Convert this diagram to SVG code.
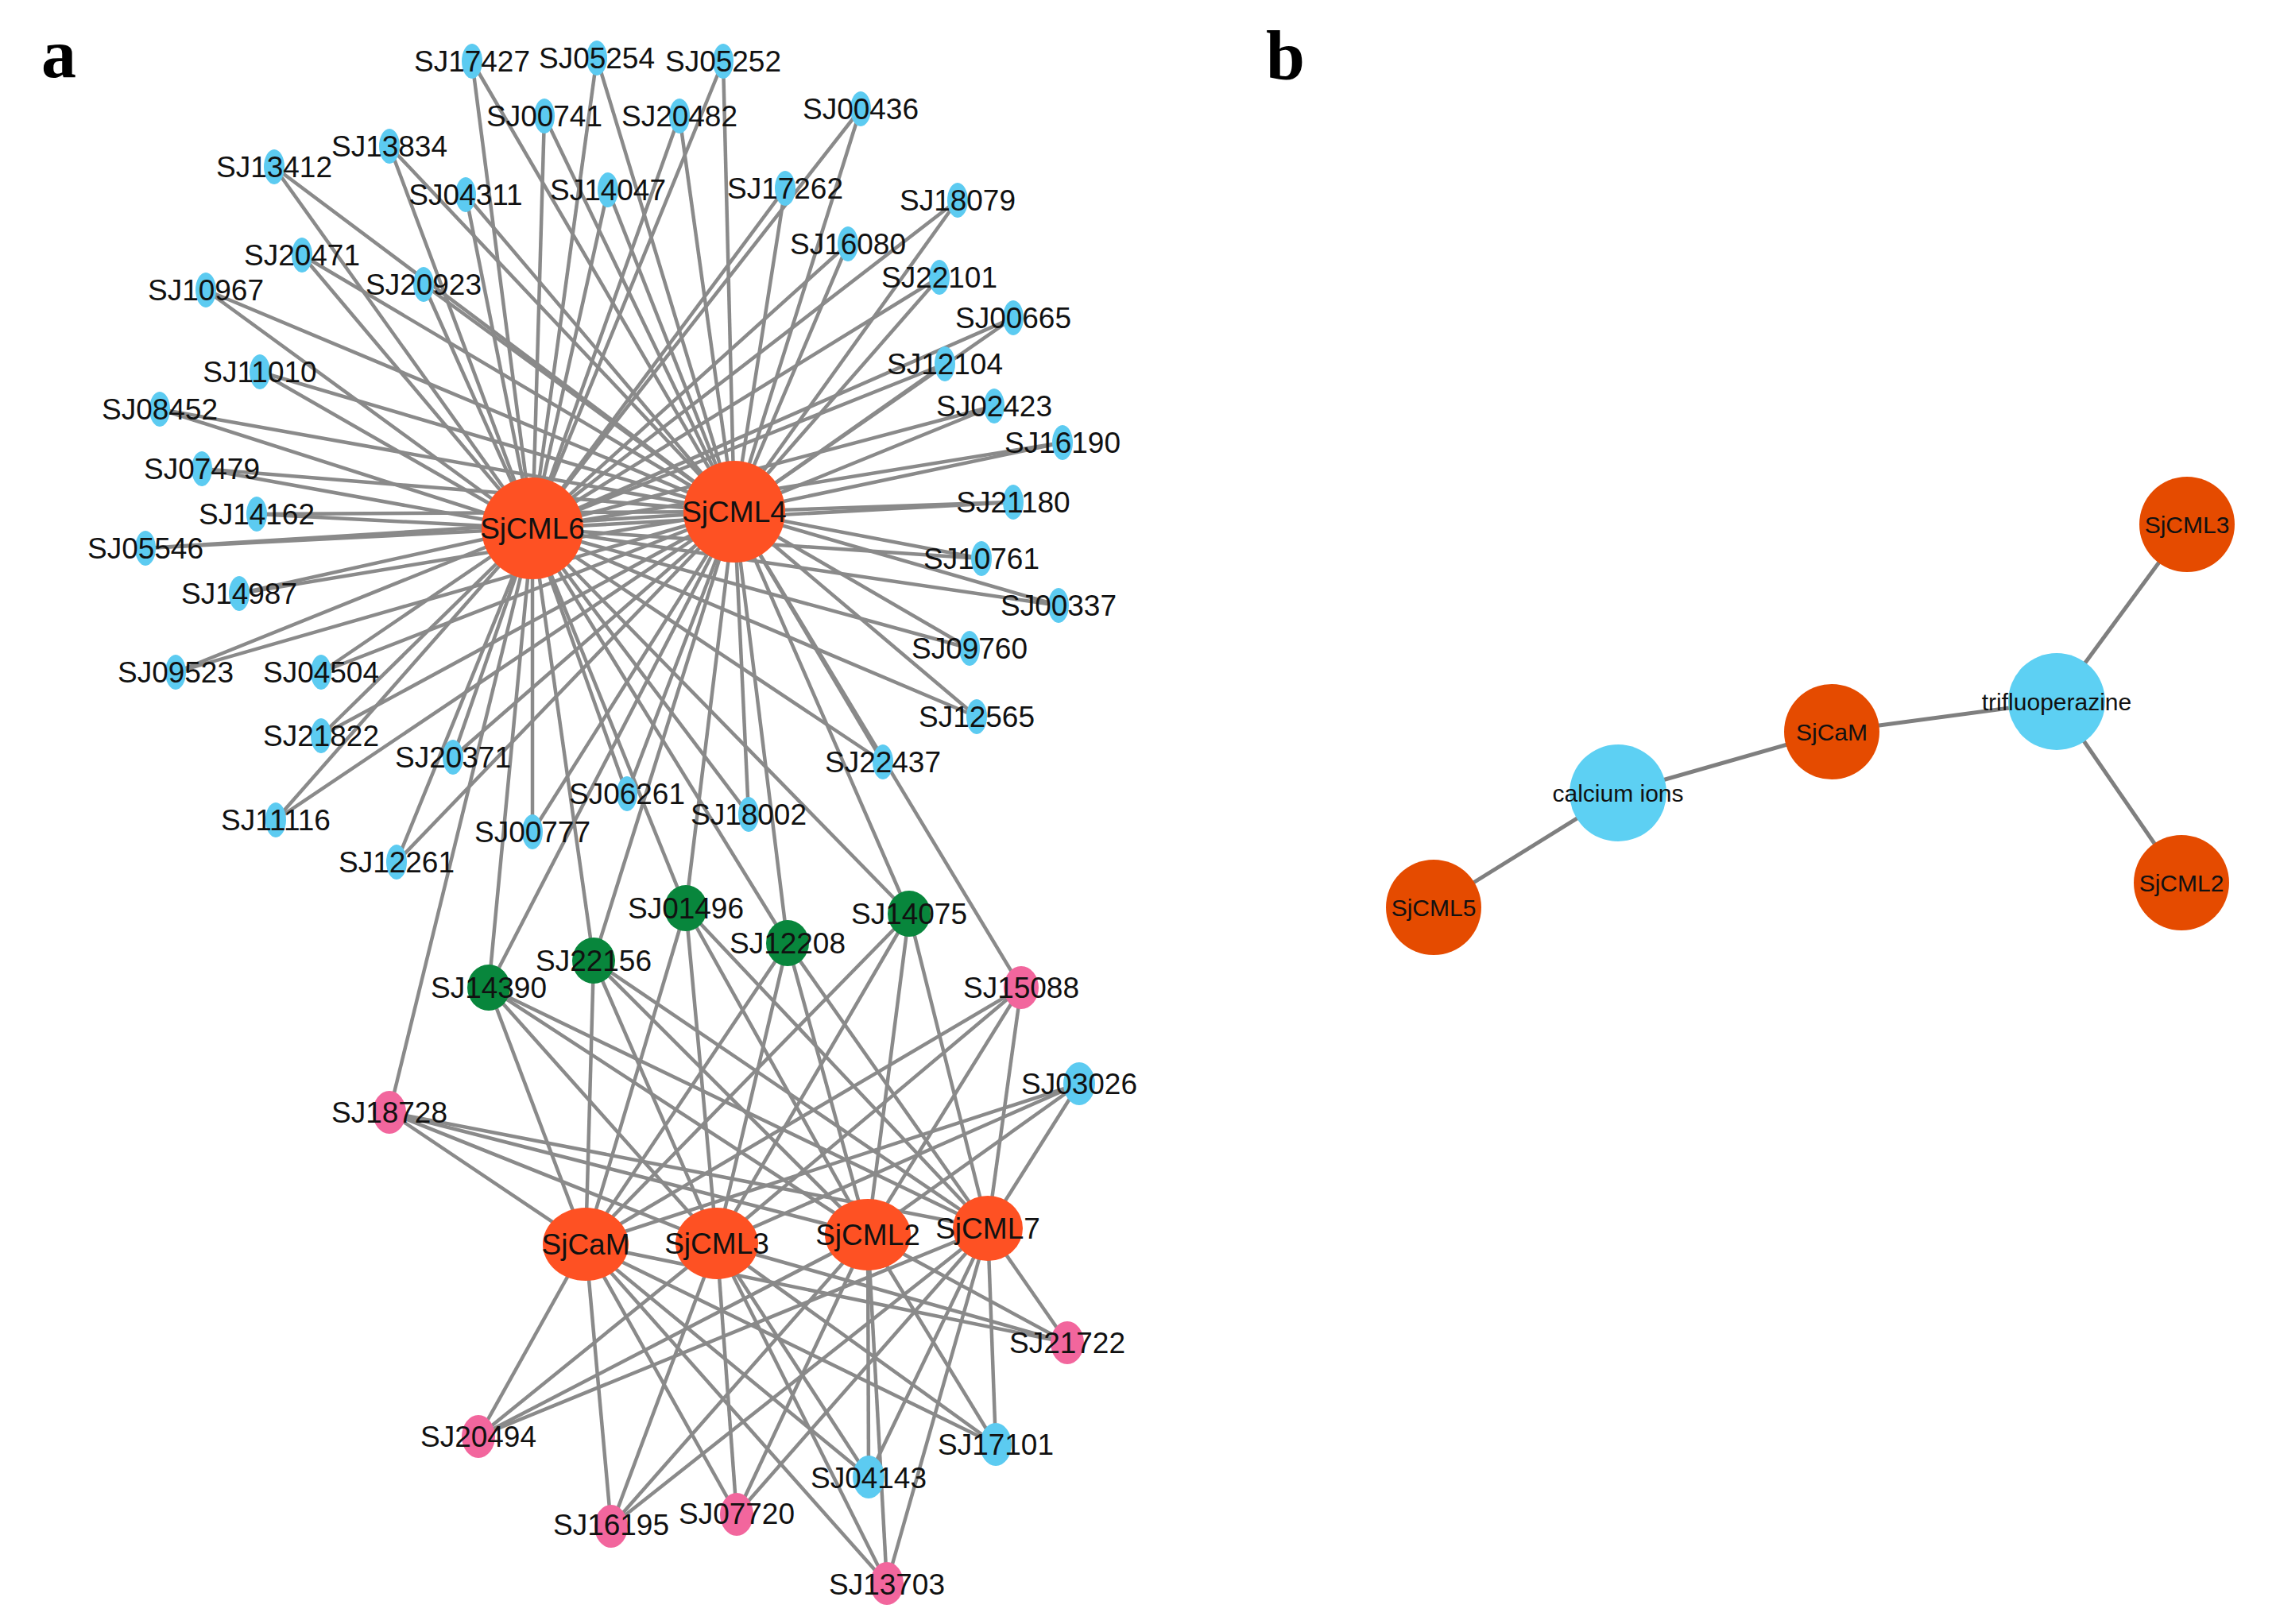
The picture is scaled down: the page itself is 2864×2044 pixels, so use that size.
<svg xmlns="http://www.w3.org/2000/svg" width="2864" height="2044" viewBox="0 0 2864 2044">
<style>
.e{stroke:#8a8a8a;stroke-width:4.5;fill:none}
.eb{stroke:#7f7f7f;stroke-width:5;fill:none}
.blue{fill:#5ccbf1}
.hub{fill:#fe5123}
.green{fill:#08863c}
.pink{fill:#f2669d}
.bhub{fill:#e54b00}
.bcy{fill:#5dd0f3}
text{font-family:"Liberation Sans",Arial,sans-serif;text-anchor:middle;fill:#111}
.t{font-size:37px}
.tb{font-size:30px}
.panel{font-family:"Liberation Serif","Times New Roman",serif;font-weight:bold;font-size:88px;text-anchor:start;fill:#000}
</style>
<rect width="2864" height="2044" fill="#fff"/>
<text class="panel" x="52" y="97">a</text>
<text class="panel" x="1593" y="100">b</text>
<g id="connectors">
<g class="e">
<line x1="594" y1="77" x2="670" y2="665"/><line x1="594" y1="77" x2="924" y2="644"/>
<line x1="751" y1="73" x2="670" y2="665"/><line x1="751" y1="73" x2="924" y2="644"/>
<line x1="910" y1="77" x2="670" y2="665"/><line x1="910" y1="77" x2="924" y2="644"/>
<line x1="685" y1="146" x2="670" y2="665"/><line x1="685" y1="146" x2="924" y2="644"/>
<line x1="855" y1="146" x2="670" y2="665"/><line x1="855" y1="146" x2="924" y2="644"/>
<line x1="1083" y1="137" x2="670" y2="665"/><line x1="1083" y1="137" x2="924" y2="644"/>
<line x1="490" y1="184" x2="670" y2="665"/><line x1="490" y1="184" x2="924" y2="644"/>
<line x1="345" y1="210" x2="670" y2="665"/><line x1="345" y1="210" x2="924" y2="644"/>
<line x1="586" y1="245" x2="670" y2="665"/><line x1="586" y1="245" x2="924" y2="644"/>
<line x1="765" y1="239" x2="670" y2="665"/><line x1="765" y1="239" x2="924" y2="644"/>
<line x1="988" y1="237" x2="670" y2="665"/><line x1="988" y1="237" x2="924" y2="644"/>
<line x1="1205" y1="252" x2="670" y2="665"/><line x1="1205" y1="252" x2="924" y2="644"/>
<line x1="1067" y1="307" x2="670" y2="665"/><line x1="1067" y1="307" x2="924" y2="644"/>
<line x1="380" y1="321" x2="670" y2="665"/><line x1="380" y1="321" x2="924" y2="644"/>
<line x1="533" y1="358" x2="670" y2="665"/><line x1="533" y1="358" x2="924" y2="644"/>
<line x1="1182" y1="349" x2="670" y2="665"/><line x1="1182" y1="349" x2="924" y2="644"/>
<line x1="259" y1="365" x2="670" y2="665"/><line x1="259" y1="365" x2="924" y2="644"/>
<line x1="1275" y1="400" x2="670" y2="665"/><line x1="1275" y1="400" x2="924" y2="644"/>
<line x1="327" y1="468" x2="670" y2="665"/><line x1="327" y1="468" x2="924" y2="644"/>
<line x1="1189" y1="458" x2="670" y2="665"/><line x1="1189" y1="458" x2="924" y2="644"/>
<line x1="201" y1="515" x2="670" y2="665"/><line x1="201" y1="515" x2="924" y2="644"/>
<line x1="1251" y1="511" x2="670" y2="665"/><line x1="1251" y1="511" x2="924" y2="644"/>
<line x1="1337" y1="557" x2="670" y2="665"/><line x1="1337" y1="557" x2="924" y2="644"/>
<line x1="254" y1="590" x2="670" y2="665"/><line x1="254" y1="590" x2="924" y2="644"/>
<line x1="323" y1="647" x2="670" y2="665"/><line x1="323" y1="647" x2="924" y2="644"/>
<line x1="1275" y1="632" x2="670" y2="665"/><line x1="1275" y1="632" x2="924" y2="644"/>
<line x1="183" y1="690" x2="670" y2="665"/><line x1="183" y1="690" x2="924" y2="644"/>
<line x1="1235" y1="703" x2="670" y2="665"/><line x1="1235" y1="703" x2="924" y2="644"/>
<line x1="301" y1="747" x2="670" y2="665"/><line x1="301" y1="747" x2="924" y2="644"/>
<line x1="1332" y1="762" x2="670" y2="665"/><line x1="1332" y1="762" x2="924" y2="644"/>
<line x1="1220" y1="816" x2="670" y2="665"/><line x1="1220" y1="816" x2="924" y2="644"/>
<line x1="221" y1="846" x2="670" y2="665"/><line x1="221" y1="846" x2="924" y2="644"/>
<line x1="404" y1="846" x2="670" y2="665"/><line x1="404" y1="846" x2="924" y2="644"/>
<line x1="1229" y1="902" x2="670" y2="665"/><line x1="1229" y1="902" x2="924" y2="644"/>
<line x1="404" y1="926" x2="670" y2="665"/><line x1="404" y1="926" x2="924" y2="644"/>
<line x1="1111" y1="959" x2="670" y2="665"/><line x1="1111" y1="959" x2="924" y2="644"/>
<line x1="570" y1="953" x2="670" y2="665"/><line x1="570" y1="953" x2="924" y2="644"/>
<line x1="789" y1="999" x2="670" y2="665"/><line x1="789" y1="999" x2="924" y2="644"/>
<line x1="347" y1="1032" x2="670" y2="665"/><line x1="347" y1="1032" x2="924" y2="644"/>
<line x1="942" y1="1025" x2="670" y2="665"/><line x1="942" y1="1025" x2="924" y2="644"/>
<line x1="670" y1="1047" x2="670" y2="665"/><line x1="670" y1="1047" x2="924" y2="644"/>
<line x1="499" y1="1085" x2="670" y2="665"/><line x1="499" y1="1085" x2="924" y2="644"/>
<line x1="615" y1="1243" x2="670" y2="665"/><line x1="615" y1="1243" x2="924" y2="644"/>
<line x1="615" y1="1243" x2="737" y2="1566"/><line x1="615" y1="1243" x2="902" y2="1565"/><line x1="615" y1="1243" x2="1092" y2="1554"/><line x1="615" y1="1243" x2="1243" y2="1546"/>
<line x1="747" y1="1209" x2="670" y2="665"/><line x1="747" y1="1209" x2="924" y2="644"/>
<line x1="747" y1="1209" x2="737" y2="1566"/><line x1="747" y1="1209" x2="902" y2="1565"/><line x1="747" y1="1209" x2="1092" y2="1554"/><line x1="747" y1="1209" x2="1243" y2="1546"/>
<line x1="863" y1="1143" x2="670" y2="665"/><line x1="863" y1="1143" x2="924" y2="644"/>
<line x1="863" y1="1143" x2="737" y2="1566"/><line x1="863" y1="1143" x2="902" y2="1565"/><line x1="863" y1="1143" x2="1092" y2="1554"/><line x1="863" y1="1143" x2="1243" y2="1546"/>
<line x1="991" y1="1187" x2="670" y2="665"/><line x1="991" y1="1187" x2="924" y2="644"/>
<line x1="991" y1="1187" x2="737" y2="1566"/><line x1="991" y1="1187" x2="902" y2="1565"/><line x1="991" y1="1187" x2="1092" y2="1554"/><line x1="991" y1="1187" x2="1243" y2="1546"/>
<line x1="1144" y1="1150" x2="670" y2="665"/><line x1="1144" y1="1150" x2="924" y2="644"/>
<line x1="1144" y1="1150" x2="737" y2="1566"/><line x1="1144" y1="1150" x2="902" y2="1565"/><line x1="1144" y1="1150" x2="1092" y2="1554"/><line x1="1144" y1="1150" x2="1243" y2="1546"/>
<line x1="490" y1="1400" x2="670" y2="665"/>
<line x1="490" y1="1400" x2="737" y2="1566"/><line x1="490" y1="1400" x2="902" y2="1565"/><line x1="490" y1="1400" x2="1092" y2="1554"/><line x1="490" y1="1400" x2="1243" y2="1546"/>
<line x1="1285" y1="1243" x2="924" y2="644"/>
<line x1="1285" y1="1243" x2="737" y2="1566"/><line x1="1285" y1="1243" x2="902" y2="1565"/><line x1="1285" y1="1243" x2="1092" y2="1554"/><line x1="1285" y1="1243" x2="1243" y2="1546"/>
<line x1="1358" y1="1364" x2="737" y2="1566"/><line x1="1358" y1="1364" x2="902" y2="1565"/><line x1="1358" y1="1364" x2="1092" y2="1554"/><line x1="1358" y1="1364" x2="1243" y2="1546"/>
<line x1="1343" y1="1690" x2="737" y2="1566"/><line x1="1343" y1="1690" x2="902" y2="1565"/><line x1="1343" y1="1690" x2="1092" y2="1554"/><line x1="1343" y1="1690" x2="1243" y2="1546"/>
<line x1="602" y1="1808" x2="737" y2="1566"/><line x1="602" y1="1808" x2="902" y2="1565"/><line x1="602" y1="1808" x2="1092" y2="1554"/><line x1="602" y1="1808" x2="1243" y2="1546"/>
<line x1="769" y1="1921" x2="737" y2="1566"/><line x1="769" y1="1921" x2="902" y2="1565"/><line x1="769" y1="1921" x2="1092" y2="1554"/><line x1="769" y1="1921" x2="1243" y2="1546"/>
<line x1="927" y1="1906" x2="737" y2="1566"/><line x1="927" y1="1906" x2="902" y2="1565"/><line x1="927" y1="1906" x2="1092" y2="1554"/><line x1="927" y1="1906" x2="1243" y2="1546"/>
<line x1="1093" y1="1859" x2="737" y2="1566"/><line x1="1093" y1="1859" x2="902" y2="1565"/><line x1="1093" y1="1859" x2="1092" y2="1554"/><line x1="1093" y1="1859" x2="1243" y2="1546"/>
<line x1="1116" y1="1993" x2="737" y2="1566"/><line x1="1116" y1="1993" x2="902" y2="1565"/><line x1="1116" y1="1993" x2="1092" y2="1554"/><line x1="1116" y1="1993" x2="1243" y2="1546"/>
<line x1="1253" y1="1818" x2="737" y2="1566"/><line x1="1253" y1="1818" x2="902" y2="1565"/><line x1="1253" y1="1818" x2="1092" y2="1554"/><line x1="1253" y1="1818" x2="1243" y2="1546"/>
</g>
<g class="eb">
<line x1="1804" y1="1142" x2="2036" y2="998"/>
<line x1="2036" y1="998" x2="2305" y2="921"/>
<line x1="2305" y1="921" x2="2588" y2="883"/>
<line x1="2588" y1="883" x2="2752" y2="660"/>
<line x1="2588" y1="883" x2="2745" y2="1111"/>
</g>
</g>
<g id="nodes-a">
<g id="SJ17427"><ellipse class="blue" cx="594" cy="77" rx="13" ry="22"/><text class="t" x="594" y="90">SJ17427</text></g>
<g id="SJ05254"><ellipse class="blue" cx="751" cy="73" rx="13" ry="22"/><text class="t" x="751" y="86">SJ05254</text></g>
<g id="SJ05252"><ellipse class="blue" cx="910" cy="77" rx="13" ry="22"/><text class="t" x="910" y="90">SJ05252</text></g>
<g id="SJ00741"><ellipse class="blue" cx="685" cy="146" rx="13" ry="22"/><text class="t" x="685" y="159">SJ00741</text></g>
<g id="SJ20482"><ellipse class="blue" cx="855" cy="146" rx="13" ry="22"/><text class="t" x="855" y="159">SJ20482</text></g>
<g id="SJ00436"><ellipse class="blue" cx="1083" cy="137" rx="13" ry="22"/><text class="t" x="1083" y="150">SJ00436</text></g>
<g id="SJ13834"><ellipse class="blue" cx="490" cy="184" rx="13" ry="22"/><text class="t" x="490" y="197">SJ13834</text></g>
<g id="SJ13412"><ellipse class="blue" cx="345" cy="210" rx="13" ry="22"/><text class="t" x="345" y="223">SJ13412</text></g>
<g id="SJ04311"><ellipse class="blue" cx="586" cy="245" rx="13" ry="22"/><text class="t" x="586" y="258">SJ04311</text></g>
<g id="SJ14047"><ellipse class="blue" cx="765" cy="239" rx="13" ry="22"/><text class="t" x="765" y="252">SJ14047</text></g>
<g id="SJ17262"><ellipse class="blue" cx="988" cy="237" rx="13" ry="22"/><text class="t" x="988" y="250">SJ17262</text></g>
<g id="SJ18079"><ellipse class="blue" cx="1205" cy="252" rx="13" ry="22"/><text class="t" x="1205" y="265">SJ18079</text></g>
<g id="SJ16080"><ellipse class="blue" cx="1067" cy="307" rx="13" ry="22"/><text class="t" x="1067" y="320">SJ16080</text></g>
<g id="SJ20471"><ellipse class="blue" cx="380" cy="321" rx="13" ry="22"/><text class="t" x="380" y="334">SJ20471</text></g>
<g id="SJ20923"><ellipse class="blue" cx="533" cy="358" rx="13" ry="22"/><text class="t" x="533" y="371">SJ20923</text></g>
<g id="SJ22101"><ellipse class="blue" cx="1182" cy="349" rx="13" ry="22"/><text class="t" x="1182" y="362">SJ22101</text></g>
<g id="SJ10967"><ellipse class="blue" cx="259" cy="365" rx="13" ry="22"/><text class="t" x="259" y="378">SJ10967</text></g>
<g id="SJ00665"><ellipse class="blue" cx="1275" cy="400" rx="13" ry="22"/><text class="t" x="1275" y="413">SJ00665</text></g>
<g id="SJ11010"><ellipse class="blue" cx="327" cy="468" rx="13" ry="22"/><text class="t" x="327" y="481">SJ11010</text></g>
<g id="SJ12104"><ellipse class="blue" cx="1189" cy="458" rx="13" ry="22"/><text class="t" x="1189" y="471">SJ12104</text></g>
<g id="SJ08452"><ellipse class="blue" cx="201" cy="515" rx="13" ry="22"/><text class="t" x="201" y="528">SJ08452</text></g>
<g id="SJ02423"><ellipse class="blue" cx="1251" cy="511" rx="13" ry="22"/><text class="t" x="1251" y="524">SJ02423</text></g>
<g id="SJ16190"><ellipse class="blue" cx="1337" cy="557" rx="13" ry="22"/><text class="t" x="1337" y="570">SJ16190</text></g>
<g id="SJ07479"><ellipse class="blue" cx="254" cy="590" rx="13" ry="22"/><text class="t" x="254" y="603">SJ07479</text></g>
<g id="SJ14162"><ellipse class="blue" cx="323" cy="647" rx="13" ry="22"/><text class="t" x="323" y="660">SJ14162</text></g>
<g id="SJ21180"><ellipse class="blue" cx="1275" cy="632" rx="13" ry="22"/><text class="t" x="1275" y="645">SJ21180</text></g>
<g id="SJ05546"><ellipse class="blue" cx="183" cy="690" rx="13" ry="22"/><text class="t" x="183" y="703">SJ05546</text></g>
<g id="SJ10761"><ellipse class="blue" cx="1235" cy="703" rx="13" ry="22"/><text class="t" x="1235" y="716">SJ10761</text></g>
<g id="SJ14987"><ellipse class="blue" cx="301" cy="747" rx="13" ry="22"/><text class="t" x="301" y="760">SJ14987</text></g>
<g id="SJ00337"><ellipse class="blue" cx="1332" cy="762" rx="13" ry="22"/><text class="t" x="1332" y="775">SJ00337</text></g>
<g id="SJ09760"><ellipse class="blue" cx="1220" cy="816" rx="13" ry="22"/><text class="t" x="1220" y="829">SJ09760</text></g>
<g id="SJ09523"><ellipse class="blue" cx="221" cy="846" rx="13" ry="22"/><text class="t" x="221" y="859">SJ09523</text></g>
<g id="SJ04504"><ellipse class="blue" cx="404" cy="846" rx="13" ry="22"/><text class="t" x="404" y="859">SJ04504</text></g>
<g id="SJ12565"><ellipse class="blue" cx="1229" cy="902" rx="13" ry="22"/><text class="t" x="1229" y="915">SJ12565</text></g>
<g id="SJ21822"><ellipse class="blue" cx="404" cy="926" rx="13" ry="22"/><text class="t" x="404" y="939">SJ21822</text></g>
<g id="SJ22437"><ellipse class="blue" cx="1111" cy="959" rx="13" ry="22"/><text class="t" x="1111" y="972">SJ22437</text></g>
<g id="SJ20371"><ellipse class="blue" cx="570" cy="953" rx="13" ry="22"/><text class="t" x="570" y="966">SJ20371</text></g>
<g id="SJ06261"><ellipse class="blue" cx="789" cy="999" rx="13" ry="22"/><text class="t" x="789" y="1012">SJ06261</text></g>
<g id="SJ11116"><ellipse class="blue" cx="347" cy="1032" rx="13" ry="22"/><text class="t" x="347" y="1045">SJ11116</text></g>
<g id="SJ18002"><ellipse class="blue" cx="942" cy="1025" rx="13" ry="22"/><text class="t" x="942" y="1038">SJ18002</text></g>
<g id="SJ00777"><ellipse class="blue" cx="670" cy="1047" rx="13" ry="22"/><text class="t" x="670" y="1060">SJ00777</text></g>
<g id="SJ12261"><ellipse class="blue" cx="499" cy="1085" rx="13" ry="22"/><text class="t" x="499" y="1098">SJ12261</text></g>
<g id="SjCML6"><circle class="hub" cx="670" cy="665" r="64"/><text class="t" x="670" y="678">SjCML6</text></g>
<g id="SjCML4"><circle class="hub" cx="924" cy="644" r="64"/><text class="t" x="924" y="657">SjCML4</text></g>
<g id="SJ14390"><ellipse class="green" cx="615" cy="1243" rx="27" ry="29"/><text class="t" x="615" y="1256">SJ14390</text></g>
<g id="SJ22156"><ellipse class="green" cx="747" cy="1209" rx="27" ry="29"/><text class="t" x="747" y="1222">SJ22156</text></g>
<g id="SJ01496"><ellipse class="green" cx="863" cy="1143" rx="27" ry="29"/><text class="t" x="863" y="1156">SJ01496</text></g>
<g id="SJ12208"><ellipse class="green" cx="991" cy="1187" rx="27" ry="29"/><text class="t" x="991" y="1200">SJ12208</text></g>
<g id="SJ14075"><ellipse class="green" cx="1144" cy="1150" rx="27" ry="29"/><text class="t" x="1144" y="1163">SJ14075</text></g>
<g id="SJ15088"><ellipse class="pink" cx="1285" cy="1243" rx="22" ry="27"/><text class="t" x="1285" y="1256">SJ15088</text></g>
<g id="SJ18728"><ellipse class="pink" cx="490" cy="1400" rx="21" ry="27"/><text class="t" x="490" y="1413">SJ18728</text></g>
<g id="SJ03026"><ellipse class="blue" cx="1358" cy="1364" rx="20" ry="27"/><text class="t" x="1358" y="1377">SJ03026</text></g>
<g id="SjCaM"><ellipse class="hub" cx="737" cy="1566" rx="54" ry="46"/><text class="t" x="737" y="1579">SjCaM</text></g>
<g id="SjCML3"><ellipse class="hub" cx="902" cy="1565" rx="52" ry="45"/><text class="t" x="902" y="1578">SjCML3</text></g>
<g id="SjCML2"><ellipse class="hub" cx="1092" cy="1554" rx="54" ry="45"/><text class="t" x="1092" y="1567">SjCML2</text></g>
<g id="SjCML7"><ellipse class="hub" cx="1243" cy="1546" rx="44" ry="41"/><text class="t" x="1243" y="1559">SjCML7</text></g>
<g id="SJ21722"><ellipse class="pink" cx="1343" cy="1690" rx="21" ry="27"/><text class="t" x="1343" y="1703">SJ21722</text></g>
<g id="SJ20494"><ellipse class="pink" cx="602" cy="1808" rx="21" ry="27"/><text class="t" x="602" y="1821">SJ20494</text></g>
<g id="SJ16195"><ellipse class="pink" cx="769" cy="1921" rx="21" ry="27"/><text class="t" x="769" y="1932">SJ16195</text></g>
<g id="SJ07720"><ellipse class="pink" cx="927" cy="1906" rx="21" ry="27"/><text class="t" x="927" y="1918">SJ07720</text></g>
<g id="SJ04143"><ellipse class="blue" cx="1093" cy="1859" rx="20" ry="27"/><text class="t" x="1093" y="1873">SJ04143</text></g>
<g id="SJ13703"><ellipse class="pink" cx="1116" cy="1993" rx="21" ry="27"/><text class="t" x="1116" y="2007">SJ13703</text></g>
<g id="SJ17101"><ellipse class="blue" cx="1253" cy="1818" rx="20" ry="27"/><text class="t" x="1253" y="1831">SJ17101</text></g>
</g>
<g id="nodes-b">
<g id="b-SjCML3"><circle class="bhub" cx="2752" cy="660" r="60"/><text class="tb" x="2752" y="671">SjCML3</text></g>
<g id="b-trifluoperazine"><circle class="bcy" cx="2588" cy="883" r="61"/><text class="tb" x="2588" y="894">trifluoperazine</text></g>
<g id="b-SjCaM"><circle class="bhub" cx="2305" cy="921" r="60"/><text class="tb" x="2305" y="932">SjCaM</text></g>
<g id="b-calcium"><circle class="bcy" cx="2036" cy="998" r="61"/><text class="tb" x="2036" y="1009">calcium ions</text></g>
<g id="b-SjCML5"><circle class="bhub" cx="1804" cy="1142" r="60"/><text class="tb" x="1804" y="1153">SjCML5</text></g>
<g id="b-SjCML2"><circle class="bhub" cx="2745" cy="1111" r="60"/><text class="tb" x="2745" y="1122">SjCML2</text></g>
</g>
</svg>
